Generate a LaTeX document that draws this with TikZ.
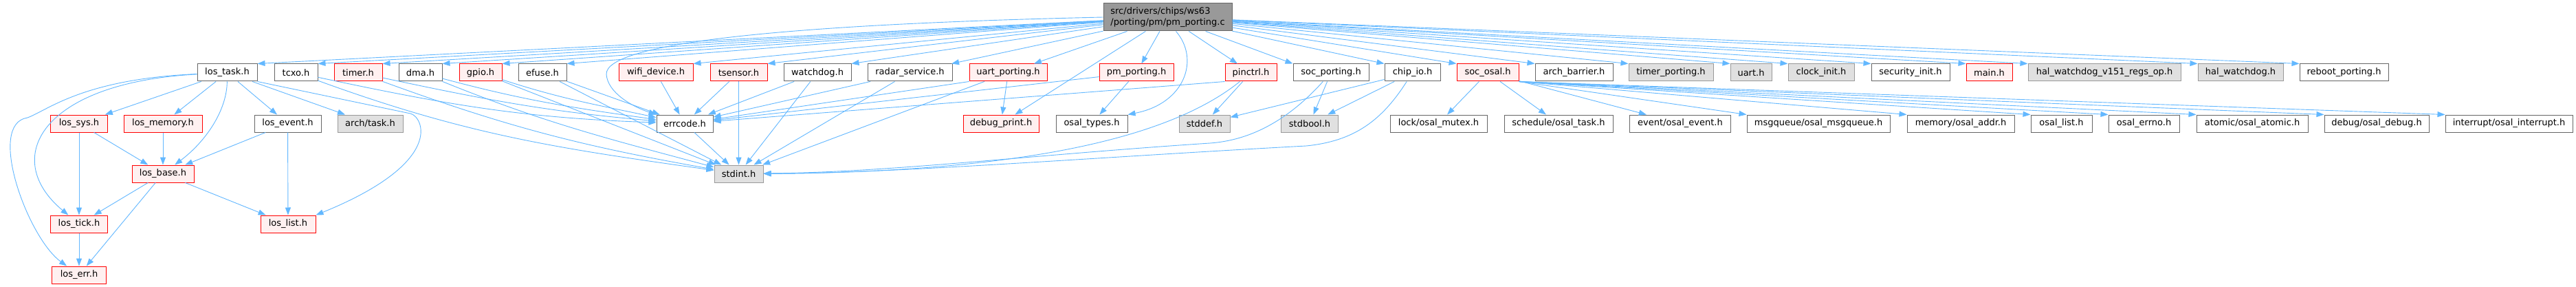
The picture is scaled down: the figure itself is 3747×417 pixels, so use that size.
\documentclass[tikz,border=0pt]{standalone}
\usepackage{fontspec}
\setmainfont{DejaVu Sans}
\usetikzlibrary{arrows.meta}
\definecolor{edgeblue}{HTML}{63B8FF}
\definecolor{redfill}{HTML}{FFF0F0}
\definecolor{grayfill}{HTML}{E0E0E0}
\definecolor{srcfill}{HTML}{999999}
\definecolor{darkline}{HTML}{666666}
\definecolor{grayline}{HTML}{999999}
\tikzset{
filebox/.style={draw=darkline,fill=white,line width=1pt,minimum height=25pt,inner sep=0pt,font=\fontsize{13}{15.5}\selectfont},
redbox/.style={filebox,draw=red,fill=redfill},
graybox/.style={filebox,draw=grayline,fill=grayfill},
srcbox/.style={filebox,fill=srcfill,minimum height=40pt,align=left},
incl/.style={draw=edgeblue,line width=0.9pt,-{Triangle[length=11pt,width=8pt]}}
}
\newcommand{\incfile}[6]{\node[#1,minimum width=#5pt] (#2) at (#3,#4) {#6};}
\newcommand{\drawincl}{\draw[incl]}
\begin{document}
\begin{tikzpicture}[x=1pt,y=1pt]
\fill[white,use as bounding box] (0,0) rectangle (3747,-417);
\incfile{srcbox}{src}{1698.5}{-25}{187}{src/drivers/chips/ws63\\/porting/pm/pm\_porting.c}
\incfile{filebox}{lostask}{330.5}{-105.5}{87}{los\_task.h}\incfile{filebox}{tcxo}{430.5}{-105.5}{63}{tcxo.h}
\incfile{redbox}{timer}{521}{-105.5}{70}{timer.h}\incfile{filebox}{dma}{611.5}{-105.5}{63}{dma.h}
\incfile{redbox}{gpio}{699}{-105.5}{62}{gpio.h}\incfile{filebox}{efuse}{789}{-105.5}{70}{efuse.h}
\incfile{redbox}{wifidev}{954}{-105.5}{108}{wifi\_device.h}\incfile{redbox}{tsensor}{1074.5}{-105.5}{83}{tsensor.h}
\incfile{filebox}{watchdog}{1189}{-105.5}{98}{watchdog.h}\incfile{filebox}{radar}{1323.5}{-105.5}{123}{radar\_service.h}
\incfile{redbox}{uartport}{1466.5}{-105.5}{113}{uart\_porting.h}\incfile{redbox}{pmport}{1653}{-105.5}{108}{pm\_porting.h}
\incfile{redbox}{pinctrl}{1819.5}{-105.5}{75}{pinctrl.h}\incfile{filebox}{socport}{1936}{-105.5}{110}{soc\_porting.h}
\incfile{filebox}{chipio}{2054.5}{-105.5}{81}{chip\_io.h}\incfile{redbox}{sosal}{2164}{-105.5}{90}{soc\_osal.h}
\incfile{filebox}{archbar}{2289.5}{-105.5}{113}{arch\_barrier.h}\incfile{graybox}{timerport}{2430.5}{-105.5}{123}{timer\_porting.h}
\incfile{graybox}{uart}{2547}{-105.5}{60}{uart.h}\incfile{graybox}{clockinit}{2649}{-105.5}{96}{clock\_init.h}
\incfile{filebox}{secinit}{2779}{-105.5}{114}{security\_init.h}\incfile{redbox}{mainh}{2893.5}{-105.5}{67}{main.h}
\incfile{graybox}{halregs}{3061}{-105.5}{222}{hal\_watchdog\_v151\_regs\_op.h}\incfile{graybox}{halwdg}{3259}{-105.5}{124}{hal\_watchdog.h}
\incfile{filebox}{reboot}{3409.5}{-105.5}{129}{reboot\_porting.h}
\incfile{redbox}{lossys}{115}{-179.5}{83}{los\_sys.h}\incfile{redbox}{losmem}{237}{-179.5}{114}{los\_memory.h}
\incfile{filebox}{losevent}{418.5}{-179.5}{97}{los\_event.h}\incfile{graybox}{archtask}{538.5}{-179.5}{95}{arch/task.h}
\incfile{filebox}{errcode}{996}{-179.5}{82}{errcode.h}\incfile{redbox}{debugprint}{1456}{-179.5}{110}{debug\_print.h}
\incfile{filebox}{ostypes}{1588}{-179.5}{104}{osal\_types.h}\incfile{graybox}{stddef}{1752}{-179.5}{74}{stddef.h}
\incfile{graybox}{stdbool}{1905}{-179.5}{83}{stdbool.h}\incfile{filebox}{osmutex}{2092.5}{-179.5}{141}{lock/osal\_mutex.h}
\incfile{filebox}{ostask}{2267}{-179.5}{158}{schedule/osal\_task.h}\incfile{filebox}{osevent}{2444}{-179.5}{147}{event/osal\_event.h}
\incfile{filebox}{osmsgq}{2645}{-179.5}{208}{msgqueue/osal\_msgqueue.h}\incfile{filebox}{osaddr}{2852}{-179.5}{156}{memory/osal\_addr.h}
\incfile{filebox}{oslist}{2998.5}{-179.5}{89}{osal\_list.h}\incfile{filebox}{oserrno}{3118.5}{-179.5}{103}{osal\_errno.h}
\incfile{filebox}{osatomic}{3276}{-179.5}{162}{atomic/osal\_atomic.h}\incfile{filebox}{osdebug}{3457}{-179.5}{152}{debug/osal\_debug.h}
\incfile{filebox}{osintr}{3649.5}{-179.5}{185}{interrupt/osal\_interrupt.h}
\incfile{redbox}{losbase}{237}{-252.5}{90}{los\_base.h}\incfile{graybox}{stdint}{1074.5}{-252.5}{71}{stdint.h}
\incfile{redbox}{lostick}{115}{-325.5}{83}{los\_tick.h}\incfile{redbox}{loslist}{419}{-325.5}{80}{los\_list.h}
\incfile{redbox}{loserr}{115}{-399.5}{79}{los\_err.h}
\foreach \n in {lostask,tcxo,timer,dma,gpio,efuse,wifidev,tsensor,watchdog}{\drawincl (src) -- (\n.north east);}
\foreach \n in {radar,uartport,pmport,pinctrl,debugprint}{\drawincl (src) -- (\n);}
\foreach \n in {socport,chipio,sosal,archbar,timerport,uart,clockinit,secinit,mainh,halregs,halwdg,reboot}{\drawincl (src) -- (\n.north west);}
\drawincl (src.west) .. controls (1150,-35) and (880,-62) .. (882,-108) .. controls (884,-135) and (920,-155) .. (errcode.north west);
\drawincl ([xshift=12pt]src.south) .. controls (1745,-85) and (1725,-150) .. (ostypes.north east);
\drawincl (lostask) -- (lossys);\drawincl (lostask) -- (losmem);\drawincl (lostask) -- (losevent);\drawincl (lostask) -- (archtask);
\drawincl (lostask) .. controls (330,-160) and (300,-205) .. (losbase);
\drawincl (lostask.south east) -- (597,-165) .. controls (615,-169) and (650,-235) .. (loslist.north east);
\drawincl (lostask) .. controls (60,-120) and (0,-230) .. (lostick);
\drawincl (lostask) .. controls (120,-115) and (70,-160) .. (40,-171) .. controls (-20,-180) and (40,-345) .. (loserr);
\drawincl (lossys) -- (lostick);\drawincl (lossys) -- (losbase);\drawincl (losmem) -- (losbase);
\drawincl (losevent) -- (losbase);\drawincl (losevent) -- (loslist);
\drawincl (losbase) -- (lostick);\drawincl (losbase) -- (loserr);\drawincl (losbase) -- (loslist);\drawincl (lostick) -- (loserr);
\drawincl (tcxo) to[out=-12,in=178] (errcode);\drawincl (tcxo) to[out=-20,in=172] (stdint);
\drawincl (timer) to[out=-12,in=175] (errcode);\drawincl (timer) to[out=-20,in=170] (stdint);
\drawincl (dma) to[out=-15,in=172] (errcode);\drawincl (dma) to[out=-22,in=165] (stdint);
\drawincl (gpio) to[out=-18,in=168] (errcode);\drawincl (gpio) -- (stdint);
\drawincl (efuse) -- (errcode);\drawincl (efuse) -- (stdint);
\drawincl (wifidev) -- (errcode);\drawincl (tsensor) -- (errcode);\drawincl (tsensor) -- (stdint);
\drawincl (watchdog) -- (errcode);\drawincl (watchdog) -- (stdint);
\drawincl (radar) -- (errcode);\drawincl (radar) -- (stdint);
\drawincl (uartport.south west) -- (errcode);\drawincl (uartport) -- (stdint);\drawincl (uartport) -- (debugprint);
\drawincl (pmport) -- (errcode);\drawincl (pmport) -- (ostypes);
\drawincl (pinctrl.south west) -- (errcode);\drawincl (pinctrl) -- (stddef);
\drawincl (pinctrl) .. controls (1690,-210) and (1450,-250) .. (stdint);
\drawincl (socport) -- (stdbool);
\drawincl (socport) .. controls (1860,-190) and (1800,-205) .. (1760,-208) .. controls (1500,-225) and (1300,-250) .. (stdint);
\drawincl (chipio) -- (stddef);\drawincl (chipio) -- (stdbool);
\drawincl (chipio) .. controls (2010,-175) and (1970,-205) .. (1900,-212) .. controls (1600,-228) and (1300,-252) .. (stdint);
\drawincl (errcode) -- (stdint);
\drawincl (sosal) -- (osmutex);\drawincl (sosal) -- (ostask);\drawincl (sosal) -- (osevent);
\foreach \n in {osmsgq,osaddr,oslist,oserrno,osatomic,osdebug,osintr}{\drawincl (sosal.south east) -- (\n.north west);}
\end{tikzpicture}
\end{document}
